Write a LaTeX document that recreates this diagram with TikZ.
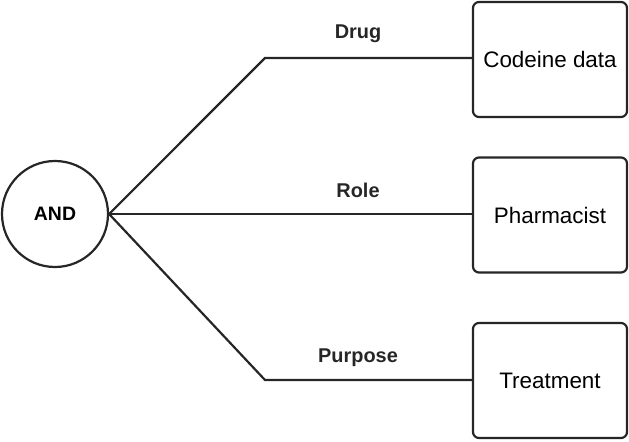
\documentclass[tikz,border=0pt]{standalone}
\usepackage{fontspec}
\setmainfont{Liberation Sans}
\usetikzlibrary{calc}

\tikzset{
   attrbox/.style={draw=black!85, line width=2.2bp, rounded corners=6bp,
      minimum width=154bp, minimum height=115bp, inner sep=0pt,
      font=\fontsize{22.5}{26}\selectfont},
   andnode/.style={draw=black!85, line width=2.2bp, circle, minimum size=106bp,
      inner sep=0pt, font=\bfseries\fontsize{19.5}{23}\selectfont},
   link/.style={draw=black!85, line width=2.2bp},
   linklabel/.style={font=\bfseries\fontsize{20}{24}\selectfont, text=black!85}
}

\begin{document}
\begin{tikzpicture}[x=1bp, y=-1bp]
   \useasboundingbox (0,0) rectangle (629,442);
   \node[andnode] (and) at (55,214) {AND};
   \node[attrbox] (codeine) at (550,59.5) {Codeine data};
   \node[attrbox] (pharm) at (550,215) {Pharmacist};
   \node[attrbox] (treat) at (550,380.5) {Treatment};
   \coordinate (drugbend) at (265,58);
   \coordinate (purpbend) at (265,380);
   \draw[link] (and.east) -- (drugbend) -- (drugbend -| codeine.west);
   \draw[link] (and.east) -- (and.east -| pharm.west);
   \draw[link] (and.east) -- (purpbend) -- (purpbend -| treat.west);
   \node[linklabel] (drug) at (358,34) {Drug};
   \node[linklabel] (role) at (358,190) {Role};
   \node[linklabel] (purpose) at (358,358) {Purpose};
\end{tikzpicture}
\end{document}
